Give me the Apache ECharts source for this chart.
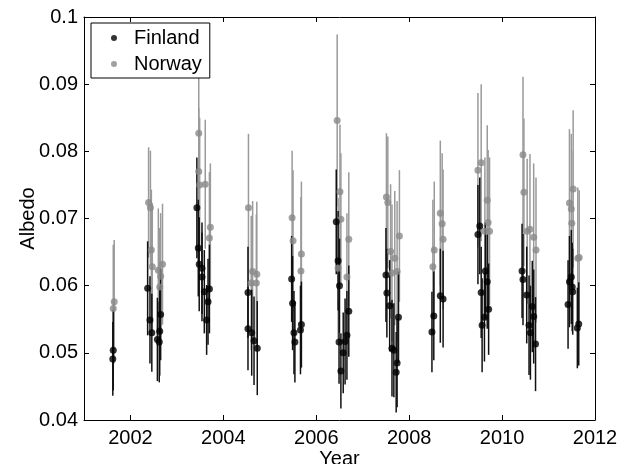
<!DOCTYPE html>
<html>
<head>
<meta charset="utf-8">
<script src="https://cdn.jsdelivr.net/npm/echarts@6/dist/echarts.min.js"></script>
<style>
  html, body { margin: 0; padding: 0; background: #fff; }
  #chart { width: 620px; height: 464px; }
</style>
</head>
<body>
<div id="chart"></div>
<script>
// Finland: year (decimal), albedo, error
const finX = [2001.62, 2001.63,
  2002.37, 2002.42, 2002.46, 2002.58, 2002.62, 2002.63, 2002.65,
  2003.43, 2003.46, 2003.48, 2003.54, 2003.54, 2003.59, 2003.64, 2003.67, 2003.70,
  2004.53, 2004.53, 2004.61, 2004.66, 2004.73,
  2005.47, 2005.49, 2005.52, 2005.54, 2005.66, 2005.68,
  2006.43, 2006.47, 2006.49, 2006.50, 2006.53, 2006.58, 2006.62, 2006.66, 2006.70,
  2007.50, 2007.52, 2007.58, 2007.63, 2007.67, 2007.72, 2007.74, 2007.77,
  2008.49, 2008.53, 2008.67, 2008.73,
  2009.48, 2009.52, 2009.55, 2009.57, 2009.62, 2009.64, 2009.68, 2009.71,
  2010.43, 2010.45, 2010.53, 2010.58, 2010.61, 2010.65, 2010.68, 2010.72,
  2011.42, 2011.45, 2011.49, 2011.51, 2011.52, 2011.62, 2011.65];
const finY = [0.0491, 0.0504,
  0.0596, 0.0549, 0.0530, 0.0520, 0.0516, 0.0532, 0.0557,
  0.0716, 0.0656, 0.0632, 0.0626, 0.0613, 0.0591, 0.0549, 0.0576, 0.0595,
  0.0590, 0.0536, 0.0530, 0.0518, 0.0507,
  0.0610, 0.0574, 0.0530, 0.0516, 0.0534, 0.0542,
  0.0695, 0.0637, 0.0516, 0.0600, 0.0473, 0.0500, 0.0517, 0.0526, 0.0562,
  0.0616, 0.0589, 0.0570, 0.0507, 0.0504, 0.0471, 0.0485, 0.0553,
  0.0531, 0.0555, 0.0585, 0.0580,
  0.0676, 0.0689, 0.0590, 0.0541, 0.0553, 0.0622, 0.0606, 0.0565,
  0.0622, 0.0609, 0.0586, 0.0541, 0.0530, 0.0569, 0.0554, 0.0513,
  0.0572, 0.0606, 0.0613, 0.0598, 0.0591, 0.0537, 0.0543];
const finErr = [0.0055, 0.0060,
  0.0070, 0.0065, 0.0058, 0.0062, 0.0060, 0.0066, 0.0068,
  0.0075, 0.0072, 0.0070, 0.0068, 0.0066, 0.0062, 0.0052, 0.0064, 0.0066,
  0.0068, 0.0062, 0.0064, 0.0066, 0.0070,
  0.0064, 0.0070, 0.0062, 0.0060, 0.0066, 0.0064,
  0.0078, 0.0074, 0.0062, 0.0070, 0.0056, 0.0060, 0.0064, 0.0066, 0.0068,
  0.0070, 0.0066, 0.0068, 0.0072, 0.0070, 0.0060, 0.0066, 0.0068,
  0.0060, 0.0066, 0.0070, 0.0072,
  0.0074, 0.0072, 0.0068, 0.0070, 0.0066, 0.0072, 0.0070, 0.0068,
  0.0070, 0.0068, 0.0072, 0.0074, 0.0070, 0.0068, 0.0070, 0.0070,
  0.0066, 0.0068, 0.0070, 0.0066, 0.0064, 0.0060, 0.0062];

// Norway
const norX = [2001.63, 2001.65,
  2002.39, 2002.43, 2002.45, 2002.47, 2002.60, 2002.63, 2002.65, 2002.69,
  2003.47, 2003.47, 2003.49, 2003.61, 2003.70, 2003.72,
  2004.54, 2004.60, 2004.63, 2004.71, 2004.72,
  2005.48, 2005.50, 2005.67, 2005.68,
  2006.45, 2006.47, 2006.51, 2006.53, 2006.66, 2006.70,
  2007.51, 2007.54, 2007.60, 2007.63, 2007.69, 2007.74, 2007.79,
  2008.51, 2008.54, 2008.67, 2008.71, 2008.73,
  2009.48, 2009.55, 2009.63, 2009.68, 2009.70, 2009.73,
  2010.45, 2010.47, 2010.54, 2010.60, 2010.68, 2010.73,
  2011.45, 2011.49, 2011.50, 2011.53, 2011.63, 2011.66];
const norY = [0.0566, 0.0576,
  0.0724, 0.0716, 0.0653, 0.0628, 0.0623, 0.0598, 0.0614, 0.0632,
  0.0827, 0.0770, 0.0750, 0.0751, 0.0671, 0.0687,
  0.0716, 0.0604, 0.0621, 0.0604, 0.0617,
  0.0701, 0.0667, 0.0622, 0.0647,
  0.0846, 0.0626, 0.0740, 0.0699, 0.0613, 0.0669,
  0.0732, 0.0724, 0.0651, 0.0619, 0.0641, 0.0621, 0.0674,
  0.0628, 0.0653, 0.0708, 0.0692, 0.0669,
  0.0772, 0.0783, 0.0681, 0.0727, 0.0694, 0.0681,
  0.0795, 0.0739, 0.0681, 0.0684, 0.0672, 0.0653,
  0.0723, 0.0714, 0.0693, 0.0744, 0.0641, 0.0642];
const norErr = [0.0095, 0.0092,
  0.0082, 0.0085, 0.0090, 0.0095, 0.0092, 0.0088, 0.0094, 0.0090,
  0.0088, 0.0095, 0.0100, 0.0096, 0.0098, 0.0095,
  0.0110, 0.0100, 0.0105, 0.0102, 0.0108,
  0.0100, 0.0105, 0.0110, 0.0108,
  0.0128, 0.0105, 0.0100, 0.0098, 0.0095, 0.0100,
  0.0095, 0.0098, 0.0100, 0.0102, 0.0100, 0.0105, 0.0098,
  0.0100, 0.0102, 0.0108, 0.0105, 0.0104,
  0.0115, 0.0117, 0.0110, 0.0112, 0.0108, 0.0110,
  0.0116, 0.0110, 0.0108, 0.0112, 0.0110, 0.0108,
  0.0110, 0.0112, 0.0108, 0.0117, 0.0105, 0.0100];

const xTicks = [2002, 2004, 2006, 2008, 2010, 2012];
const yTicks = [0.04, 0.05, 0.06, 0.07, 0.08, 0.09, 0.1];

const font = 'Liberation Sans, Arial, Helvetica, sans-serif';

function errData(xs, ys, es) {
  return xs.map((x, i) => [x, ys[i] - es[i], ys[i] + es[i]]);
}

function pointData(xs, ys) {
  return xs.map((x, i) => [x, ys[i]]);
}

function errSeries(name, data, color) {
  return {
    name: name,
    type: 'custom',
    silent: true,
    data: data,
    encode: { x: 0, y: [1, 2] },
    renderItem: function (params, api) {
      const p1 = api.coord([api.value(0), api.value(1)]);
      const p2 = api.coord([api.value(0), api.value(2)]);
      return {
        type: 'line',
        shape: { x1: p1[0], y1: p1[1], x2: p2[0], y2: p2[1] },
        style: { stroke: color, lineWidth: 1.5 }
      };
    }
  };
}

function axisCommon(ticks) {
  return {
    axisLine: { show: true, onZero: false, lineStyle: { color: '#000', width: 1 } },
    axisTick: { show: true, inside: true, length: 5, customValues: ticks, lineStyle: { color: '#000' } },
    splitLine: { show: false }
  };
}

const chart = echarts.init(document.getElementById('chart'));

const option = {
  animation: false,
  backgroundColor: '#fff',
  textStyle: { fontFamily: font },
  grid: { left: 84, right: 25, top: 17, bottom: 44, containLabel: false, outerBoundsMode: 'none' },
  legend: {
    data: ['Finland', 'Norway'],
    orient: 'vertical',
    left: 91,
    top: 23,
    padding: [5, 8, 4, 20],
    itemGap: 6,
    itemWidth: 6,
    itemHeight: 6,
    icon: 'circle',
    backgroundColor: '#fff',
    borderColor: '#000',
    borderWidth: 1,
    borderRadius: 0,
    textStyle: { fontSize: 20, color: '#000', fontFamily: font, padding: [0, 0, 0, 12] }
  },
  xAxis: [
    Object.assign(axisCommon(xTicks), {
      type: 'value', min: 2001, max: 2012, position: 'bottom',
      name: 'Year', nameLocation: 'middle', nameGap: 29, nameMoveOverlap: false,
      nameTextStyle: { fontSize: 20, color: '#000', fontFamily: font, verticalAlign: 'top' },
      axisLabel: {
        customValues: xTicks, fontSize: 20, color: '#000', margin: 8, fontFamily: font,
        formatter: v => String(v)
      }
    }),
    Object.assign(axisCommon(xTicks), {
      type: 'value', min: 2001, max: 2012, position: 'top',
      axisLabel: { show: false, customValues: xTicks }
    })
  ],
  yAxis: [
    Object.assign(axisCommon(yTicks), {
      type: 'value', min: 0.04, max: 0.1, position: 'left',
      name: 'Albedo', nameLocation: 'middle', nameGap: 46, nameMoveOverlap: false,
      nameTextStyle: { fontSize: 20, color: '#000', fontFamily: font, verticalAlign: 'bottom' },
      axisLabel: {
        customValues: yTicks, fontSize: 20, color: '#000', margin: 6, fontFamily: font,
        formatter: v => String(parseFloat(v.toFixed(2)))
      }
    }),
    Object.assign(axisCommon(yTicks), {
      type: 'value', min: 0.04, max: 0.1, position: 'right',
      axisLabel: { show: false, customValues: yTicks }
    })
  ],
  series: [
    errSeries('Norway err', errData(norX, norY, norErr), '#9a9a9a'),
    errSeries('Finland err', errData(finX, finY, finErr), '#111'),
    {
      name: 'Norway',
      type: 'scatter',
      data: pointData(norX, norY),
      symbol: 'circle',
      symbolSize: 7,
      itemStyle: { color: '#8a8a8a' }
    },
    {
      name: 'Finland',
      type: 'scatter',
      data: pointData(finX, finY),
      symbol: 'circle',
      symbolSize: 7,
      itemStyle: { color: '#000' }
    }
  ]
};

chart.setOption(option);
</script>
</body>
</html>
